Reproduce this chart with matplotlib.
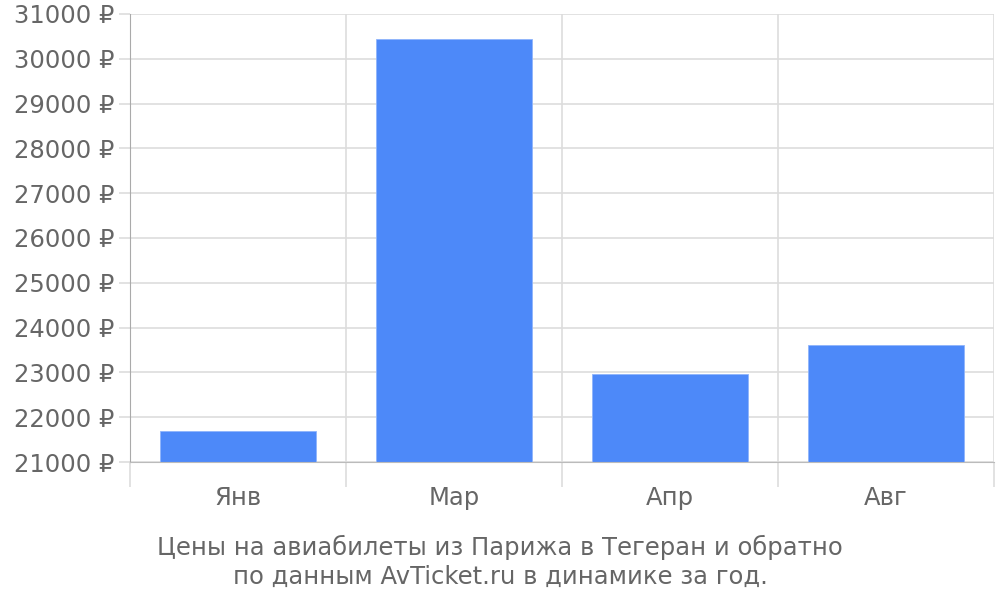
import matplotlib.pyplot as plt
import numpy as np

# Data
months = ['Янв', 'Мар', 'Апр', 'Авг']
prices = [21700, 30445, 22965, 23605]
y_ticks = list(range(21000, 31001, 1000))

text_color = '#666666'
grid_color = '#dddddd'
bar_color = '#4d89f9'

fig = plt.figure(figsize=(10, 6), dpi=100)
ax = fig.add_axes([0.13, 0.23, 0.864, 0.7467])

x = np.arange(len(months))
ax.bar(x, prices, width=0.72, bottom=0, color=bar_color,
       edgecolor='#8fb4fb', linewidth=0.6, zorder=3)

ax.set_xlim(-0.5, len(months) - 0.5)
ax.set_ylim(y_ticks[0], y_ticks[-1])
ax.set_yticks(y_ticks)
ax.set_yticklabels([f'{v} ₽' for v in y_ticks])
ax.set_xticks(x)
ax.set_xticklabels(months)

# Category boundaries as minor ticks with vertical grid lines
bounds = np.arange(-0.5, len(months) + 0.5, 1.0)
ax.set_xticks(bounds, minor=True)
ax.grid(True, which='minor', axis='x', color=grid_color, linewidth=1.2, zorder=0)
ax.grid(True, which='major', axis='y', color=grid_color, linewidth=1.2, zorder=0)

ax.tick_params(axis='x', which='major', length=0, pad=17, labelsize=17.5,
               labelcolor=text_color)
ax.tick_params(axis='x', which='minor', length=18, width=1.2, color=grid_color)
ax.tick_params(axis='y', length=8, width=1.2, color=grid_color, pad=3,
               labelsize=17.5, labelcolor=text_color)
# the left boundary tick continues the darker axis line
ax.xaxis.get_minor_ticks()[0].tick1line.set_color('#aaaaaa')

for side in ['top', 'right']:
    ax.spines[side].set_visible(False)
ax.spines['bottom'].set_color('#bbbbbb')
ax.spines['left'].set_color('#aaaaaa')
ax.spines['left'].set_zorder(4)
ax.spines['bottom'].set_zorder(4)

fig.text(0.5, 0.064, 'Цены на авиабилеты из Парижа в Тегеран и обратно\n'
         'по данным AvTicket.ru в динамике за год.',
         ha='center', va='center', fontsize=17.5, color=text_color,
         linespacing=1.25)

plt.savefig('out.png', dpi=100)
